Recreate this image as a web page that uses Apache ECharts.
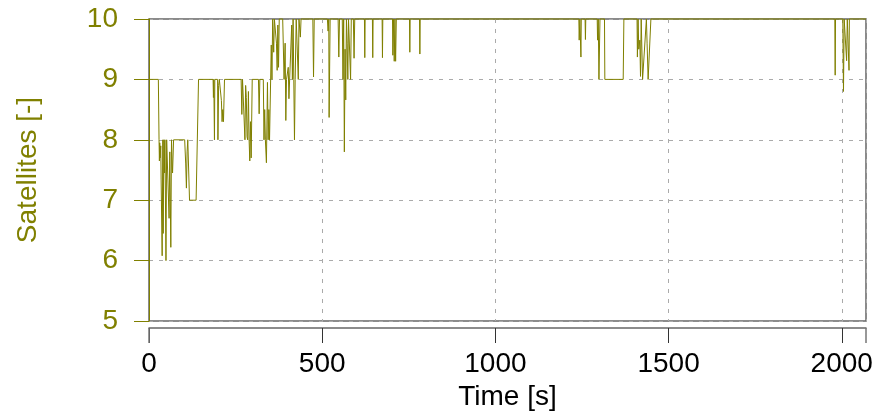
<!DOCTYPE html>
<html>
<head>
<meta charset="utf-8">
<script src="https://cdn.jsdelivr.net/npm/echarts@6/dist/echarts.min.js"></script>
<style>html,body{margin:0;padding:0;background:#fff}#c{width:880px;height:417px}</style>
</head>
<body>
<div id="c"></div>
<script>
var times = [0,27,29,30,31,32,34,35,38,40,41,43,44,45,46,49,51,53,58,60,63,65,67,68,71,103,106,108,110,112,116,117,136,143,185,186,187,189,190,198,199,201,203,208,209,211,213,215,218,266,268,270,275,277,279,281,283,285,287,289,291,293,295,298,316,318,320,330,332,334,336,339,342,344,346,348,351,353,355,357,360,362,366,368,370,372,374,376,386,390,393,395,397,400,402,404,406,410,412,414,416,418,420,422,425,429,431,433,436,437,439,473,475,477,515,517,519,520,523,546,548,550,558,560,562,564,566,568,570,572,574,576,580,582,584,590,592,594,622,623,624,645,646,647,673,674,675,703,704,706,708,710,712,714,752,753,754,781,782,783,1241,1242,1244,1246,1247,1248,1259,1260,1261,1294,1295,1297,1299,1302,1315,1316,1369,1371,1409,1410,1412,1414,1417,1419,1421,1425,1430,1436,1438,1441,1444,1449,1980,1981,1982,2003,2005,2007,2009,2012,2014,2016,2020,2021,2022,2070];
var sats = [9,9,8,7.65,7.95,7.7,7.9,7.35,6.08,8,6.45,8,7.9,7.45,8,6.0,8,8,6.7,7.8,6.22,8,7.6,7.45,8,8,7.6,7.2,7.8,8,8,7,7,9,9,8.7,9,8,9,9,8,8.9,9,9,8.65,8.3,8.5,8.3,9,9,8.42,9,9,8,8.9,8.7,8.05,8,8.8,8,7.65,8.3,7.7,9,9,8.43,9,9,8,8.5,8,7.62,8.95,8.0,8.5,8.0,8,9.57,9.0,10,9.45,10,10,9.6,9.15,9.9,9.2,10,10,9,9.6,8.32,9,9,9.2,8.68,9,9,9.9,9.0,10,9,8.0,9,10,10,9,10,10,9.7,10,10,9.04,10,10,9.8,10,8.37,10,10,9.37,10,10,9.0,10,7.8,9.5,8.66,10,9.6,9.0,10,10,9.0,10,10,9.35,10,10,9.36,10,10,9.36,10,10,9.36,10,10,9.4,10,9.3,10,9.3,10,10,9.45,10,10,9.42,10,10,9.65,10,10,9.37,10,10,9.66,10,10,9.65,10,9,10,10,9,9,10,10,9.37,10,9.5,9.65,9.05,10,9,9,10,9.6,9,9,10,10,9.07,10,10,8.8,10,10,10,9.31,10,10,9.15,10,10];
var xTicks = [0, 500, 1000, 1500, 2000];
var yTicks = [5, 6, 7, 8, 9, 10];

var olive = '#808000';
var font = 'Liberation Sans, Arial, sans-serif';
var data = times.map(function (t, i) { return [t, sats[i]]; });

var chart = echarts.init(document.getElementById('c'), null, {renderer: 'canvas'});
chart.setOption({
  animation: false,
  backgroundColor: '#fff',
  grid: {left: 149, top: 19, width: 717, height: 302, show: true, borderColor: '#666', borderWidth: 1.5, backgroundColor: 'transparent', containLabel: false},
  xAxis: [{
    type: 'value', min: 0, max: 2070, interval: 500, offset: 7,
    name: 'Time [s]', nameLocation: 'middle', nameGap: 53,
    nameTextStyle: {fontSize: 28, color: '#000', fontFamily: font},
    axisLine: {show: true, lineStyle: {color: '#666', width: 1.5}},
    axisTick: {show: true, length: 15, lineStyle: {color: '#333', width: 1}},
    axisLabel: {fontSize: 28, color: '#000', margin: 22, fontFamily: font,
      formatter: function (v) { return xTicks.indexOf(v) >= 0 ? String(v) : ''; }, showMaxLabel: false},
    splitLine: {show: true, lineStyle: {color: '#aaa', width: 1, type: [4, 6]}}
  }, {
    type: 'value', min: 0, max: 2070, interval: 2070, offset: 7, position: 'bottom',
    axisLine: {show: false},
    axisTick: {show: true, length: 15, lineStyle: {color: '#777', width: 1.5}},
    axisLabel: {show: false},
    splitLine: {show: false}
  }],
  yAxis: {
    type: 'value', min: 5, max: 10, interval: 1, offset: 7,
    name: 'Satellites [-]', nameLocation: 'middle', nameGap: 100,
    nameTextStyle: {fontSize: 28, color: olive, fontFamily: font},
    axisLine: {show: true, lineStyle: {color: olive, width: 1}},
    axisTick: {show: true, length: 15, lineStyle: {color: olive, width: 1}},
    axisLabel: {fontSize: 28, color: olive, margin: 24, fontFamily: font,
      formatter: function (v) { return yTicks.indexOf(v) >= 0 ? String(v) : ''; }},
    splitLine: {show: true, lineStyle: {color: '#aaa', width: 1, type: [4, 6]}}
  },
  series: [{
    type: 'line', data: data, xAxisIndex: 0, showSymbol: false, symbol: 'none',
    clip: false,
    lineStyle: {color: olive, width: 1}, z: 5
  }]
});
</script>
</body>
</html>
